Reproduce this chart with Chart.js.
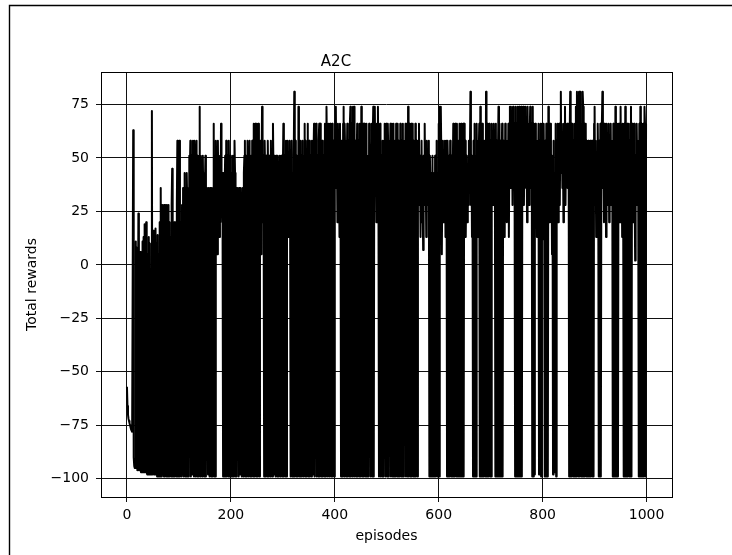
<!DOCTYPE html>
<html>
<head>
<meta charset="utf-8">
<title>A2C</title>
<script src="https://cdn.jsdelivr.net/npm/chart.js@4.4.1/dist/chart.umd.min.js"></script>
<style>
    html, body { margin: 0; padding: 0; background: #ffffff; }
    #wrap { width: 732px; height: 555px; }
</style>
</head>
<body>
<div id="wrap"><canvas id="myChart" width="732" height="555"></canvas></div>
<script>
// total reward per episode (10 episodes per row)
const totalRewards = [
    -57, -66, -70, -72, -73, -74, -75, -76, -77, -77,
    -78, -78, 63, -90, -94, -95, -95, 11, -95, 8,
    -96, -96, 24, -96, 5, -96, 6, -97, 5, -97,
    11, -97, 13, -97, 19, 13, -97, 20, -97, -98,
    5, -98, 13, -98, 10, -98, -98, -98, 72, -98,
    -98, 16, -98, 13, -98, 17, -98, 10, -99, 14,
    -99, 5, -99, 20, -99, 36, -99, 28, -98, 28,
    20, -99, 28, -99, 13, 28, -99, 28, 20, -99,
    28, -99, 20, -98, 13, -99, 28, 45, -99, 13,
    -99, 20, -99, 13, 20, -99, 28, 58, -99, 36,
    -99, 58, -99, 20, 13, -99, 28, -98, 36, -99,
    20, 43, -99, 36, -99, 43, 28, -99, 36, -99,
    51, 43, 58, -99, 51, 43, -98, 58, 51, -99,
    58, 43, -99, 51, 58, -99, 51, 43, -99, 51,
    74, -99, 51, 36, 43, -99, 51, 28, 43, -99,
    36, 51, -99, 28, 36, 20, -98, 36, 28, -99,
    36, 13, -99, 36, 28, -99, 36, 66, -99, 51,
    -99, 58, 36, 51, 5, 58, 28, 43, 13, 51,
    20, 66, 36, 43, 20, -99, 43, -99, 36, 51,
    -99, 58, -99, 43, 51, -99, 58, 28, -99, 51,
    36, -99, 43, -99, 51, 28, -99, 58, 43, -99,
    36, -99, 28, 36, 20, -99, 36, 28, -98, 36,
    20, -99, 28, 36, -99, 43, 51, 58, -99, 51,
    43, -99, 58, 36, -99, 51, 58, -99, 43, 51,
    -99, 58, 43, -99, 66, 51, -99, 66, 58, -99,
    66, 43, -99, 66, 51, -99, 28, 58, 5, 43,
    74, 20, 51, 36, -99, 58, 43, -99, 51, 28,
    -99, 58, 36, -99, 51, 43, -99, 58, 28, 51,
    -99, 66, 43, -98, 51, 36, -99, 51, 43, -99,
    51, 28, -99, 43, 51, -99, 36, 51, 20, -99,
    43, 66, -99, 51, 36, -99, 58, -99, 43, 58,
    13, 51, 28, 58, 20, -99, 51, 58, -99, 43,
    -99, 51, 81, -99, 58, 43, -99, 51, 36, -99,
    74, 51, -99, 43, 58, -99, 51, 36, 58, -99,
    43, 51, 66, -99, 58, 28, -99, 51, 66, -99,
    43, 58, -99, 51, 36, -99, 58, 43, -98, 51,
    66, -99, 43, 58, 66, -99, 51, 43, -99, 58,
    66, -99, 66, 51, -99, 43, 58, -99, 51, 36,
    -99, 66, 58, -99, 74, 51, -99, 43, 66, -99,
    58, 66, 28, -99, 51, 66, -99, 58, 43, -99,
    51, 66, 74, 36, 58, 20, 66, 43, 51, 13,
    66, 36, -99, 58, 43, -99, 66, 74, -99, 66,
    51, 58, -99, 43, 66, -99, 58, 51, -99, 66,
    74, -99, 66, 58, -99, 74, 43, 74, -99, 51,
    58, -99, 43, 66, -99, 58, 51, -99, 66, 43,
    -99, 74, 58, -99, 51, 66, -99, 66, 43, -99,
    58, 66, -99, 51, 36, -99, 66, 58, 43, -99,
    51, 66, -99, 58, 74, -99, 66, 74, 43, 58,
    20, 66, 51, 74, 36, -99, 58, 66, -99, 51,
    43, -99, 58, 51, -99, 58, 66, 36, -99, 66,
    58, -99, 66, 51, -99, 58, 43, 66, -99, 58,
    66, -99, 51, 66, -99, 43, 58, -99, 66, 51,
    -99, 66, -99, 58, 28, -99, 66, 51, -99, 58,
    -99, 66, -99, 43, 58, 20, 66, -99, 58, 66,
    -99, 74, -99, 51, 66, -99, 58, 66, -99, 43,
    66, -99, 58, 51, -99, 66, -99, 58, 43, -99,
    58, 36, 66, 28, 51, 13, 43, 58, 20, 36,
    7, 51, 28, 66, 36, 43, 13, 58, 28, 51,
    36, 58, -99, 51, 36, -99, 43, -99, 51, -99,
    28, 43, -99, 51, -99, 36, 58, -99, 43, -99,
    66, -99, 74, 36, 74, 51, 5, 43, 58, 20,
    51, 36, 58, 13, 43, 58, -99, 58, 43, -99,
    51, -99, 58, 36, -99, 51, -99, 43, 66, -99,
    58, -99, 66, 51, -99, 66, -99, 43, 58, -99,
    66, -99, 51, 66, -99, 58, -99, 66, -99, 66,
    43, 58, 13, 36, 51, 20, 43, 28, 58, 36,
    51, 81, 28, 51, 13, 43, -99, 58, -99, 66,
    -99, 51, -99, 66, 36, 58, 13, 51, 66, -99,
    74, -99, 58, -99, 66, -99, 43, -99, 58, 51,
    -99, 81, -99, 66, -99, 58, -99, 66, 51, -99,
    58, -99, 66, 36, 58, 28, 66, 43, 58, -99,
    66, -99, 58, -99, 51, 74, -99, 66, -99, 58,
    -99, 43, 66, -99, 58, 28, 51, 13, 66, 36,
    43, 20, 58, 28, 66, 13, 51, 74, 36, 74,
    43, 66, 28, 74, 51, 66, 36, -99, 74, -99,
    66, -99, 74, -99, 58, 74, -99, 66, -99, 74,
    -99, 66, 43, 74, 28, 66, 51, 74, 36, 58,
    20, 74, 43, 66, 28, 58, 74, 36, 51, 66,
    -99, 74, -99, 66, -98, 58, 66, 28, 51, 13,
    58, 36, 66, -98, 58, -98, 66, -99, 51, 66,
    12, 43, 66, 28, -99, 58, -99, 66, -99, 51,
    -99, 74, 43, 58, 20, 66, 36, 51, 5, 43,
    -98, 58, -97, 43, -97, 66, -99, 58, 36, 66,
    20, 51, 66, 28, 58, 81, 43, 66, 36, 58,
    20, 66, 51, 74, 28, 58, 43, 66, 36, 51,
    66, -99, 58, 81, -99, 66, -99, 51, 66, -99,
    58, -99, 66, -99, 74, -99, 81, 58, 43, -99,
    81, -99, 74, 81, -99, 66, -99, 81, 74, -99,
    66, -99, 58, 66, -99, 58, -99, 51, 58, -99,
    43, -99, 58, -99, 51, 58, -99, 43, -99, 66,
    74, 28, 58, 13, 51, 36, 66, 43, -99, 58,
    -99, 66, -99, 51, 66, 81, 36, 58, 20, 66,
    43, 51, 13, 66, 28, 58, 36, 66, 20, 51,
    43, 66, 28, 58, 51, -99, 66, -99, 58, -99,
    74, -99, 66, -99, 51, -99, 66, 43, 66, 20,
    74, 36, 58, 13, 66, 28, -99, 66, -99, 74,
    -99, 58, -99, 66, -99, 51, 66, -99, 58, -99,
    74, -99, 66, 43, 58, 20, 66, 36, 2, 51,
    28, 66, 43, 58, 28, -99, 66, -99, 74, -99,
    66, -99, 58, -99, 66, -99, 74, 66, -99, 66
]

// episode number of each reward
const episodes = totalRewards.map((r, i) => i)

const xTickValues = [0, 200, 400, 600, 800, 1000]
const yTickValues = [-100, -75, -50, -25, 0, 25, 50, 75]

const points = []
for (let i = 0; i < episodes.length; i++) {
    points.push({ x: episodes[i], y: totalRewards[i] })
}

const fontFamily = "'DejaVu Sans', Verdana, sans-serif"

function minusSign(value) {
    return value < 0 ? '\u2212' + Math.abs(value) : String(value)
}

// plot frame and the figure edge seen at the top left
const frames = {
    id: 'frames',
    afterDraw(chart) {
        const ctx = chart.ctx
        const a = chart.chartArea
        ctx.save()
        ctx.strokeStyle = '#000'
        ctx.lineWidth = 1
        ctx.strokeRect(Math.round(a.left) + 0.5, Math.round(a.top) + 0.5,
            Math.round(a.right - a.left), Math.round(a.bottom - a.top))
        ctx.lineWidth = 1.4
        ctx.beginPath()
        ctx.moveTo(9.5, 600)
        ctx.lineTo(9.5, 5.5)
        ctx.lineTo(800, 5.5)
        ctx.stroke()
        ctx.restore()
    }
}

const abc = document.getElementById('myChart')
const myChart = new Chart(abc, {
    type: 'line',
    data: {
        datasets: [{
            label: 'A2C',
            data: points,
            borderColor: '#000000',
            borderWidth: 2,
            borderJoinStyle: 'round',
            pointRadius: 0,
            tension: 0,
            fill: false
        }]
    },
    options: {
        responsive: false,
        animation: false,
        devicePixelRatio: 1,
        normalized: true,
        layout: {
            padding: { left: 0, right: 60, top: 0, bottom: 0 }
        },
        plugins: {
            legend: { display: false },
            tooltip: { enabled: false },
            title: {
                display: true,
                text: 'A2C',
                color: '#000',
                font: { family: fontFamily, size: 15, weight: 'normal' },
                padding: { top: 53, bottom: 1 }
            }
        },
        scales: {
            x: {
                type: 'linear',
                min: -49.95,
                max: 1048.95,
                afterBuildTicks: (axis) => { axis.ticks = xTickValues.map(v => ({ value: v })) },
                afterFit: (axis) => { axis.height = 58 },
                grid: { color: '#111', lineWidth: 1, tickLength: 5 },
                border: { display: false },
                ticks: {
                    color: '#000',
                    font: { family: fontFamily, size: 14 },
                    padding: 5,
                    autoSkip: false,
                    maxRotation: 0,
                    callback: (v) => minusSign(v)
                },
                title: {
                    display: true,
                    text: 'episodes',
                    color: '#000',
                    font: { family: fontFamily, size: 14 },
                    padding: { top: 0, bottom: 10 }
                }
            },
            y: {
                min: -108.53,
                max: 90.2,
                afterBuildTicks: (axis) => { axis.ticks = yTickValues.map(v => ({ value: v })) },
                afterFit: (axis) => { axis.width = 101 },
                grid: { color: '#111', lineWidth: 1, tickLength: 5 },
                border: { display: false },
                ticks: {
                    color: '#000',
                    font: { family: fontFamily, size: 14 },
                    padding: 7,
                    callback: (v) => minusSign(v)
                },
                title: {
                    display: true,
                    text: 'Total rewards',
                    color: '#000',
                    font: { family: fontFamily, size: 14 },
                    padding: { top: 24, bottom: 0 }
                }
            }
        }
    },
    plugins: [frames]
})
</script>
</body>
</html>
